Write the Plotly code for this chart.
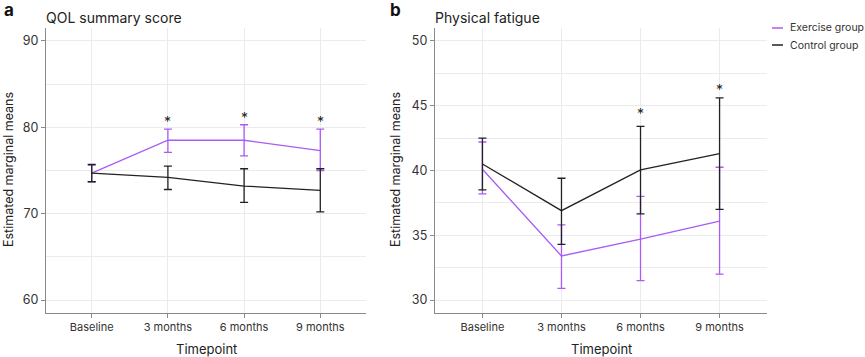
import plotly.graph_objects as go

timepoints = ["Baseline", "3 months", "6 months", "9 months"]

# Panel a: QOL summary score
qol_ex_mean = [74.7, 78.5, 78.5, 77.3]
qol_ex_hi = [75.6, 79.8, 80.3, 79.8]
qol_ex_lo = [73.7, 77.1, 76.7, 75.0]
qol_ct_mean = [74.7, 74.2, 73.2, 72.7]
qol_ct_hi = [75.7, 75.5, 75.2, 75.2]
qol_ct_lo = [73.7, 72.8, 71.3, 70.2]
qol_star_x = ["3 months", "6 months", "9 months"]
qol_star_y = [81.0, 81.5, 81.0]

# Panel b: Physical fatigue
pf_ex_mean = [40.1, 33.4, 34.7, 36.1]
pf_ex_hi = [42.2, 35.8, 38.0, 40.25]
pf_ex_lo = [38.2, 30.9, 31.5, 32.0]
pf_ct_mean = [40.5, 36.9, 40.05, 41.3]
pf_ct_hi = [42.5, 39.4, 43.4, 45.6]
pf_ct_lo = [38.5, 34.3, 36.65, 37.0]
pf_star_x = ["6 months", "9 months"]
pf_star_y = [44.6, 46.5]

PURPLE = "#A95BF5"
BLACK = "#222222"
FONT = "Inter"

W, H = 865, 357

def px_x(p):
    return p / W

def px_y(p):
    return 1 - p / H

fig = go.Figure()

def add_series(mean, hi, lo, color, xa, ya):
    fig.add_trace(go.Scatter(
        x=timepoints, y=mean, mode="lines",
        line=dict(color=color, width=1.3),
        error_y=dict(type="data", symmetric=False,
                     array=[h - m for h, m in zip(hi, mean)],
                     arrayminus=[m - l for m, l in zip(mean, lo)],
                     color=color, thickness=1.3, width=4),
        xaxis=xa, yaxis=ya, showlegend=False, hoverinfo="skip"))

add_series(qol_ex_mean, qol_ex_hi, qol_ex_lo, PURPLE, "x", "y")
add_series(qol_ct_mean, qol_ct_hi, qol_ct_lo, BLACK, "x", "y")
add_series(pf_ex_mean, pf_ex_hi, pf_ex_lo, PURPLE, "x2", "y2")
add_series(pf_ct_mean, pf_ct_hi, pf_ct_lo, BLACK, "x2", "y2")

ydom = [px_y(313), px_y(28)]
grid = "#ebebeb"
axis_common = dict(showline=True, linecolor="#8a8a8a", linewidth=1.3,
                   ticks="outside", ticklen=4, tickcolor="#8a8a8a",
                   showgrid=True, gridcolor=grid, gridwidth=1, zeroline=False)

fig.update_layout(
    width=W, height=H,
    margin=dict(l=0, r=0, t=0, b=0),
    paper_bgcolor="white", plot_bgcolor="white",
    font=dict(family=FONT, color="#333333"),
    xaxis=dict(domain=[px_x(46), px_x(366)], range=[-0.6, 3.6], anchor="y",
               type="category", tickfont=dict(size=11, color="#333"), **axis_common),
    yaxis=dict(domain=ydom, range=[58.5, 91.5], anchor="x",
               tickvals=[60, 70, 80, 90], tickfont=dict(size=12.5, color="#333"),
               minor=dict(dtick=5, tick0=0, showgrid=True, gridcolor=grid, ticks=""),
               **axis_common),
    xaxis2=dict(domain=[px_x(435), px_x(767)], range=[-0.6, 3.6], anchor="y2",
                type="category", tickfont=dict(size=11, color="#333"), **axis_common),
    yaxis2=dict(domain=ydom, range=[29, 51], anchor="x2",
                tickvals=[30, 35, 40, 45, 50], tickfont=dict(size=12.5, color="#333"),
                minor=dict(dtick=2.5, tick0=0, showgrid=True, gridcolor=grid, ticks=""),
                **axis_common),
)

ann = []
for xs, ys, xr, yr in [(qol_star_x, qol_star_y, "x", "y"), (pf_star_x, pf_star_y, "x2", "y2")]:
    for xv, yv in zip(xs, ys):
        ann.append(dict(x=xv, y=yv, xref=xr, yref=yr, text="*", showarrow=False,
                        font=dict(size=14, color="#222", family=FONT), yshift=-3))

texts = [
    dict(x=px_x(2), y=px_y(10), text="<b>a</b>", size=17, xanchor="left", color="#111"),
    dict(x=px_x(388), y=px_y(10), text="<b>b</b>", size=17, xanchor="left", color="#111"),
    dict(x=px_x(44), y=px_y(17), text="QOL summary score", size=14, xanchor="left", color="#222"),
    dict(x=px_x(433), y=px_y(17), text="Physical fatigue", size=14, xanchor="left", color="#222"),
    dict(x=px_x(206), y=px_y(349), text="Timepoint", size=13, xanchor="center", color="#222"),
    dict(x=px_x(601), y=px_y(349), text="Timepoint", size=13, xanchor="center", color="#222"),
    dict(x=px_x(788), y=px_y(28), text="Exercise group", size=10.5, xanchor="left", color="#333"),
    dict(x=px_x(788), y=px_y(45), text="Control group", size=10.5, xanchor="left", color="#333"),
]
for t in texts:
    ann.append(dict(x=t["x"], y=t["y"], xref="paper", yref="paper", text=t["text"],
                    showarrow=False, xanchor=t["xanchor"], yanchor="middle",
                    font=dict(size=t["size"], color=t["color"], family=FONT)))
for xc in [8, 395]:
    ann.append(dict(x=px_x(xc), y=px_y(170), xref="paper", yref="paper",
                    text="Estimated marginal means", textangle=-90, showarrow=False,
                    xanchor="center", yanchor="middle",
                    font=dict(size=12.5, color="#222", family=FONT)))
fig.update_layout(annotations=ann)

fig.add_shape(type="line", xref="paper", yref="paper",
              x0=px_x(772), x1=px_x(783), y0=px_y(28), y1=px_y(28),
              line=dict(color=PURPLE, width=1.5))
fig.add_shape(type="line", xref="paper", yref="paper",
              x0=px_x(772), x1=px_x(783), y0=px_y(45), y1=px_y(45),
              line=dict(color=BLACK, width=1.5))

fig.write_html("out.html", config={"displayModeBar": False},
               post_script="document.body.style.margin='0';document.body.style.padding='0';document.body.style.overflow='hidden';")
